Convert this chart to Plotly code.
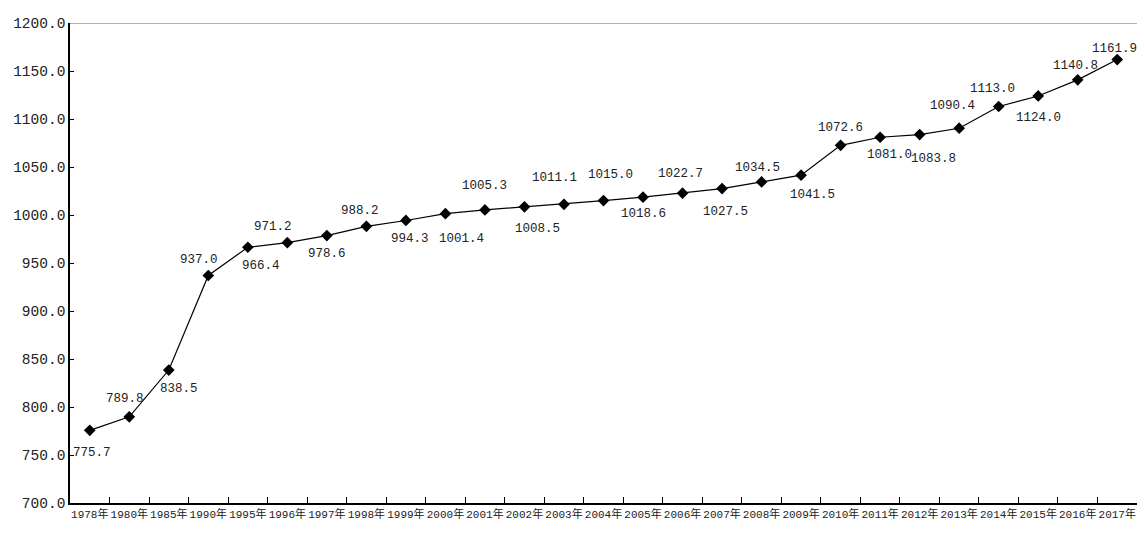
import plotly.graph_objects as go

years = ["1978年", "1980年", "1985年", "1990年", "1995年", "1996年", "1997年", "1998年",
         "1999年", "2000年", "2001年", "2002年", "2003年", "2004年", "2005年", "2006年",
         "2007年", "2008年", "2009年", "2010年", "2011年", "2012年", "2013年", "2014年",
         "2015年", "2016年", "2017年"]
values = [775.7, 789.8, 838.5, 937.0, 966.4, 971.2, 978.6, 988.2, 994.3, 1001.4,
          1005.3, 1008.5, 1011.1, 1015.0, 1018.6, 1022.7, 1027.5, 1034.5, 1041.5,
          1072.6, 1081.0, 1083.8, 1090.4, 1113.0, 1124.0, 1140.8, 1161.9]

# label offsets in pixels (dx right, dy down) – styling only
label_dx = [2, -4, 10, -9, 13, -14, 0, -6, 4, 16, 0, 13, -9, 7, 0, -2, 3, -4, 11, 0, 9, 14, -7, -6, 0, -2, -3]
label_dy = [23, -18, 19, -15, 19, -16, 18, -15, 19, 25, -24, 22, -26, -26, 17, -19, 23, -14, 20, -17, 18, 24, -22, -18, 22, -14, -11]

mono = "Liberation Mono, Noto Sans CJK SC, monospace"

fig = go.Figure()
fig.add_trace(go.Scatter(
    x=years, y=values, mode="lines+markers",
    line=dict(color="black", width=1.2),
    marker=dict(symbol="diamond", size=9, color="black"),
    showlegend=False, hoverinfo="x+y",
))

for yr, v, dx, dy in zip(years, values, label_dx, label_dy):
    fig.add_annotation(
        x=yr, y=v, text=f"{v:.1f}", showarrow=False,
        xshift=dx, yshift=-dy,
        font=dict(family=mono, size=12.5, color="#222"),
    )

fig.add_shape(type="line", xref="paper", yref="y", x0=0, x1=1, y0=1200, y1=1200,
              line=dict(color="#999", width=1.5))

fig.update_layout(
    width=1129, height=519,
    margin=dict(l=62, r=0, t=15, b=24),
    paper_bgcolor="white", plot_bgcolor="white",
    font=dict(family=mono, color="#222"),
    xaxis=dict(
        type="category", range=[-0.5, 26.5], showgrid=False,
        showline=True, linecolor="black", linewidth=1.5,
        ticks="inside", ticklen=6, tickcolor="black", tickson="boundaries",
        tickfont=dict(family=mono, size=11, color="#222"),
        tickangle=0, automargin=False,
    ),
    yaxis=dict(
        range=[700, 1200], dtick=50, tickformat=".1f", showgrid=False,
        showline=True, linecolor="black", linewidth=1.5,
        ticks="inside", ticklen=4, tickcolor="black",
        tickfont=dict(family=mono, size=14.5, color="#222"),
        zeroline=False, automargin=False,
    ),
)

fig.write_html("out.html")
